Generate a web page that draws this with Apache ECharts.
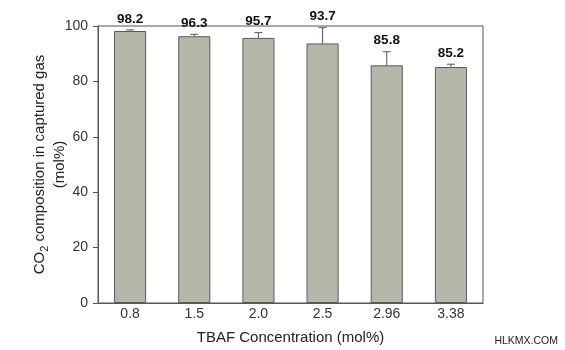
<!DOCTYPE html>
<html>
<head>
<meta charset="utf-8">
<script src="https://cdn.jsdelivr.net/npm/echarts@6/dist/echarts.min.js"></script>
<style>
  html, body { margin: 0; padding: 0; background: #fff; }
  #chart { width: 565px; height: 350px; }
</style>
</head>
<body>
<div id="chart"></div>
<script>
// TBAF concentration (mol%) categories
const categories = ['0.8', '1.5', '2.0', '2.5', '2.96', '3.38'];
// Mean CO2 composition in captured gas (mol%)
const co2Values = [98.2, 96.3, 95.7, 93.7, 85.8, 85.2];
// Upper end of each error bar (mol%)
const errorUpper = [98.6, 97.0, 97.6, 99.4, 90.7, 86.2];
// Y axis ticks
const yTicks = [0, 20, 40, 60, 80, 100];

const font = 'Liberation Sans, Arial, sans-serif';
const chart = echarts.init(document.getElementById('chart'));

const errData = co2Values.map((v, i) => [i, v, errorUpper[i]]);

chart.setOption({
  animation: false,
  backgroundColor: '#ffffff',
  grid: {
    left: 98, right: 82, top: 26, bottom: 47,
    show: true, borderColor: '#555', borderWidth: 1, backgroundColor: 'transparent'
  },
  xAxis: {
    type: 'category',
    data: categories,
    name: 'TBAF Concentration (mol%)',
    nameLocation: 'middle',
    nameGap: 27,
    nameMoveOverlap: false,
    nameTextStyle: { fontFamily: font, fontSize: 15, color: '#222' },
    axisLine: { lineStyle: { color: '#555', width: 1 } },
    axisTick: { show: false },
    axisLabel: { fontFamily: font, fontSize: 14, color: '#333', margin: 4 }
  },
  yAxis: {
    type: 'value',
    min: yTicks[0], max: yTicks[yTicks.length - 1], interval: 20,
    name: '{a|CO}{s|2}{a| composition in captured gas}\n{a|(mol%)}',
    nameLocation: 'middle',
    nameGap: 28,
    nameMoveOverlap: false,
    nameTextStyle: {
      fontFamily: font, color: '#222', lineHeight: 20, align: 'center',
      rich: {
        a: { fontFamily: font, fontSize: 15, color: '#222', lineHeight: 20 },
        s: { fontFamily: font, fontSize: 11, color: '#222', verticalAlign: 'bottom', padding: [7, 0, 0, 0], lineHeight: 20 }
      }
    },
    axisLine: { show: true, lineStyle: { color: '#555', width: 1 } },
    axisTick: { show: true, length: 5, lineStyle: { color: '#555' } },
    splitLine: { show: false },
    axisLabel: { fontFamily: font, fontSize: 14, color: '#333', margin: 10 }
  },
  series: [
    {
      type: 'bar',
      data: co2Values,
      barWidth: '50%',
      itemStyle: { color: '#b5b7a9', borderColor: '#5a5a5a', borderWidth: 1 },
      z: 2
    },
    {
      type: 'custom',
      data: errData,
      z: 3,
      renderItem: function (params, api) {
        const i = api.value(0);
        const top = api.coord([i, api.value(1)]);
        const hi = api.coord([i, api.value(2)]);
        const capHalf = 4;
        return {
          type: 'group',
          children: [
            { type: 'line', shape: { x1: top[0], y1: top[1], x2: hi[0], y2: hi[1] },
              style: { stroke: '#555', lineWidth: 1 } },
            { type: 'line', shape: { x1: hi[0] - capHalf, y1: hi[1], x2: hi[0] + capHalf, y2: hi[1] },
              style: { stroke: '#555', lineWidth: 1 } },
            { type: 'text',
              style: { x: hi[0], y: hi[1] - 4, text: api.value(1).toFixed(1),
                       align: 'center', verticalAlign: 'bottom',
                       font: 'bold 13.5px ' + font, fill: '#111' } }
          ]
        };
      }
    }
  ],
  graphic: [
    { type: 'text', right: 7, top: 336,
      style: { text: 'HLKMX.COM', font: '10.5px ' + font, fill: '#222' } }
  ]
});
</script>
</body>
</html>
